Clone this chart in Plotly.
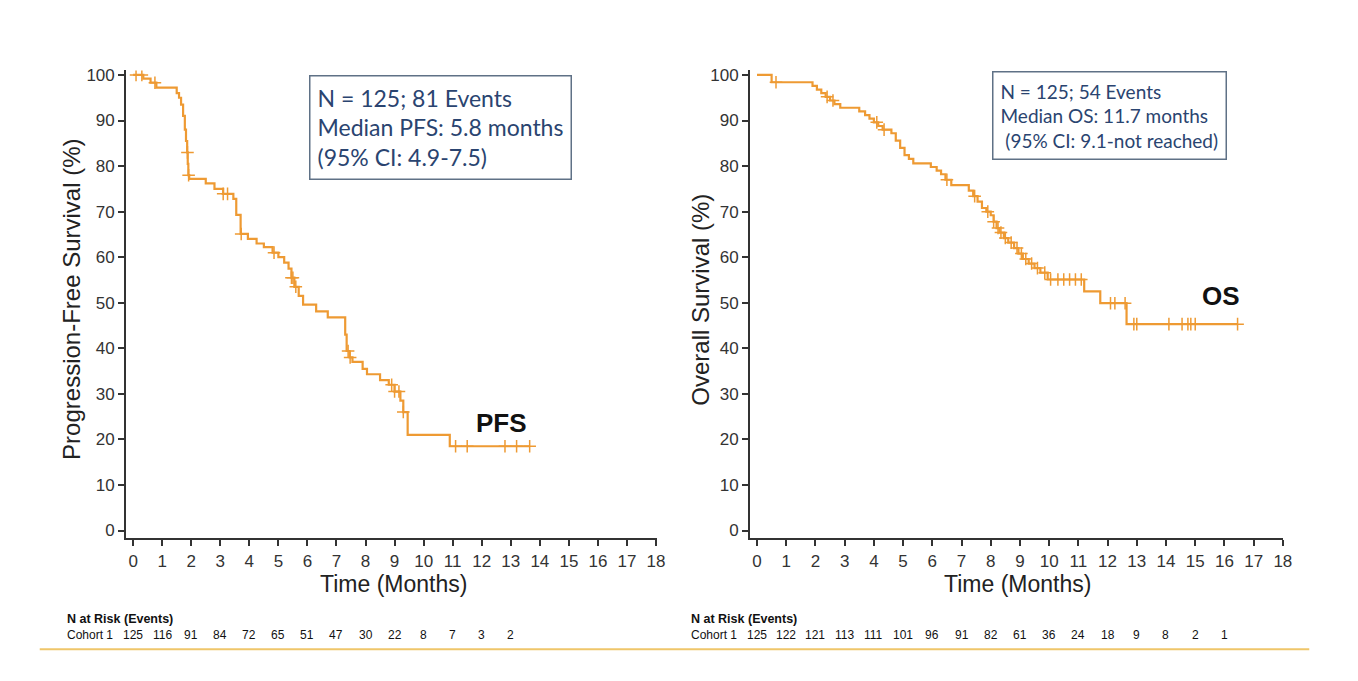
import plotly.graph_objects as go

# ---------------- data ----------------
months = list(range(0, 19))

pfs_time = [0, 0.35, 0.6, 0.8, 1.5, 1.58, 1.65, 1.72, 1.78, 1.82, 1.86, 1.88, 1.9, 1.93,
            2.5, 2.8, 3.1, 3.45, 3.55, 3.7, 3.95, 4.25, 4.5, 4.8, 5.0, 5.2, 5.35, 5.45,
            5.55, 5.7, 5.85, 6.3, 6.7, 7.3, 7.35, 7.45, 7.55, 7.9, 8.05, 8.5, 8.8, 9.0,
            9.2, 9.3, 9.45, 10.9]
pfs_surv = [100, 99.2, 98.3, 97.2, 96.0, 95.0, 93.5, 91.0, 88.0, 85.5, 83.0, 80.5, 78.0, 77.2,
            76.2, 75.0, 73.9, 72.8, 69.3, 65.1, 64.0, 63.0, 62.2, 61.0, 60.0, 58.8, 57.5, 55.5,
            53.5, 51.5, 49.6, 48.1, 46.8, 43.0, 39.4, 38.0, 37.0, 35.5, 34.3, 33.0, 32.0, 30.5,
            28.5, 26.0, 21.0, 18.5]
pfs_last = 13.65
pfs_cens = [0.1, 0.3, 0.75, 1.87, 1.91, 3.1, 3.25, 3.72, 4.85, 5.45, 5.5, 5.6, 7.4, 7.47,
            8.9, 9.0, 9.15, 9.3, 11.1, 11.5, 12.8, 13.2, 13.65]

os_time = [0, 0.5, 1.9, 2.05, 2.2, 2.35, 2.5, 2.65, 2.85, 3.5, 3.7, 3.85, 4.0, 4.15, 4.3,
           4.6, 4.75, 4.9, 5.05, 5.2, 5.35, 5.95, 6.15, 6.3, 6.45, 6.65, 7.25, 7.4, 7.55,
           7.7, 7.85, 8.0, 8.1, 8.2, 8.3, 8.45, 8.6, 8.8, 8.95, 9.1, 9.3, 9.5, 9.7, 9.95,
           11.2, 11.75, 12.65]
os_surv = [100, 98.4, 97.6, 96.8, 96.0, 95.2, 94.4, 93.6, 92.8, 92.0, 91.2, 90.4, 89.6, 88.8, 88.0,
           87.2, 85.6, 84.0, 82.4, 81.6, 80.6, 79.8, 79.0, 78.2, 77.0, 75.8, 74.6, 73.4, 72.2,
           70.8, 70.0, 69.2, 67.8, 66.4, 65.4, 64.2, 63.2, 62.0, 60.8, 59.6, 58.6, 57.6, 56.6, 55.1,
           52.5, 49.9, 45.3]
os_last = 16.45
os_cens = [0.65, 2.4, 2.6, 4.1, 4.35, 6.5, 7.45, 7.9, 8.1, 8.25, 8.35, 8.5, 8.7, 8.9, 9.05,
           9.2, 9.4, 9.6, 9.85, 10.05, 10.3, 10.5, 10.7, 10.9, 11.1, 12.1, 12.25, 12.6, 12.9,
           13.0, 14.1, 14.55, 14.75, 14.85, 15.0, 16.45]

pfs_risk = [125, 116, 91, 84, 72, 65, 51, 47, 30, 22, 8, 7, 3, 2]
os_risk = [125, 122, 121, 113, 111, 101, 96, 91, 82, 61, 36, 24, 18, 9, 8, 2, 1]

pfs_box = ["N = 125; 81 Events", "Median PFS: 5.8 months", "(95% CI: 4.9-7.5)"]
os_box = ["N = 125; 54 Events", "Median OS: 11.7 months", " (95% CI: 9.1-not reached)"]

assert len(pfs_time) == len(pfs_surv) and len(os_time) == len(os_surv)

# ---------------- helpers ----------------
ORANGE = "#EE9A33"
AXC = "#333333"
W, H = 1358, 681


def step_at(times, surv, t):
    s = surv[0]
    for ti, si in zip(times, surv):
        if ti <= t:
            s = si
    return s


def px_x(p):
    return p / W


def px_y(p):
    return 1 - p / H


fig = go.Figure()

for times, surv, last, cens, xa, ya in [
    (pfs_time, pfs_surv, pfs_last, pfs_cens, "x", "y"),
    (os_time, os_surv, os_last, os_cens, "x2", "y2"),
]:
    fig.add_trace(go.Scatter(
        x=times + [last], y=surv + [surv[-1]], mode="lines",
        line=dict(color=ORANGE, width=2.2, shape="hv"),
        xaxis=xa, yaxis=ya, showlegend=False, hoverinfo="skip"))
    fig.add_trace(go.Scatter(
        x=cens, y=[step_at(times, surv, c) for c in cens], mode="markers",
        marker=dict(symbol="cross-thin", size=9, line=dict(color=ORANGE, width=1.5)),
        xaxis=xa, yaxis=ya, showlegend=False, hoverinfo="skip"))

tickfont = dict(family="Liberation Sans, Arial", size=17, color=AXC)
common_x = dict(range=[-0.24, 18.02], tickmode="array", tickvals=months,
                ticktext=[str(m) for m in months], ticks="outside", ticklen=6,
                tickwidth=2, tickcolor=AXC, showline=True, linewidth=2, linecolor=AXC,
                showgrid=False, zeroline=False, tickfont=tickfont, fixedrange=True)
common_y = dict(range=[-1.7, 101], tickmode="linear", tick0=0, dtick=10, ticks="outside",
                ticklen=6, tickwidth=2, tickcolor=AXC, showline=True, linewidth=2,
                linecolor=AXC, showgrid=False, zeroline=False, tickfont=tickfont,
                fixedrange=True)

fig.update_layout(
    width=W, height=H, margin=dict(l=0, r=0, t=0, b=0),
    paper_bgcolor="white", plot_bgcolor="white",
    xaxis=dict(domain=[px_x(127), px_x(661)], anchor="y", **common_x),
    yaxis=dict(domain=[px_y(539), px_y(67)], anchor="x", **common_y),
    xaxis2=dict(domain=[px_x(755), px_x(1292)], anchor="y2", **common_x),
    yaxis2=dict(domain=[px_y(539), px_y(67)], anchor="x2", **common_y),
)

ann = []
ytitle_font = dict(family="Liberation Sans, Arial", size=24, color="#222222")
xtitle_font = dict(family="Liberation Sans, Arial", size=23, color="#222222")
# axis titles
ann.append(dict(text="Progression-Free Survival (%)", x=px_x(72), y=px_y(298), xref="paper",
                yref="paper", textangle=-90, showarrow=False, font=ytitle_font,
                xanchor="center", yanchor="middle"))
ann.append(dict(text="Overall Survival (%)", x=px_x(705), y=px_y(298), xref="paper",
                yref="paper", textangle=-90, showarrow=False, font=ytitle_font,
                xanchor="center", yanchor="middle"))
ann.append(dict(text="Time (Months)", x=px_x(396), y=px_y(585), xref="paper", yref="paper",
                showarrow=False, font=xtitle_font, xanchor="center", yanchor="middle"))
ann.append(dict(text="Time (Months)", x=px_x(1024), y=px_y(585), xref="paper", yref="paper",
                showarrow=False, font=xtitle_font, xanchor="center", yanchor="middle"))

# curve labels
lab_font = dict(family="Liberation Sans, Arial", size=26, color="#111111")
ann.append(dict(text="<b>PFS</b>", x=px_x(505), y=px_y(423), xref="paper", yref="paper",
                showarrow=False, font=lab_font, xanchor="center", yanchor="middle"))
ann.append(dict(text="<b>OS</b>", x=px_x(1229), y=px_y(295), xref="paper", yref="paper",
                showarrow=False, font=lab_font, xanchor="center", yanchor="middle"))

# stats boxes
BOXTXT = "#2A4470"
ann.append(dict(text="<br>".join(pfs_box), x=px_x(311), y=px_y(72), xref="paper", yref="paper",
                showarrow=False, align="left", xanchor="left", yanchor="top",
                font=dict(family="Lato, Carlito, Open Sans", size=23, color=BOXTXT),
                bordercolor="#5F7186", borderwidth=1.5, borderpad=7, bgcolor="white"))
ann.append(dict(text="<br>".join(os_box), x=px_x(999), y=px_y(68), xref="paper", yref="paper",
                showarrow=False, align="left", xanchor="left", yanchor="top",
                font=dict(family="Lato, Carlito, Open Sans", size=19, color=BOXTXT),
                bordercolor="#5F7186", borderwidth=1.5, borderpad=7, bgcolor="white"))

# risk tables
risk_font = dict(family="Liberation Sans, Arial", size=12, color="#111111")
for x0, risks, xr in [(65, pfs_risk, "x"), (694, os_risk, "x2")]:
    ann.append(dict(text="<b>N at Risk (Events)</b>", x=px_x(x0), y=px_y(620), xref="paper",
                    yref="paper", showarrow=False, xanchor="left", yanchor="middle",
                    font=dict(family="Liberation Sans, Arial", size=12.5, color="#111111")))
    ann.append(dict(text="Cohort 1", x=px_x(x0), y=px_y(637), xref="paper", yref="paper",
                    showarrow=False, xanchor="left", yanchor="middle", font=risk_font))
    for i, r in enumerate(risks):
        ann.append(dict(text=str(r), x=months[i], y=px_y(637), xref=xr, yref="paper",
                        showarrow=False, xanchor="center", yanchor="middle", font=risk_font))

fig.update_layout(annotations=ann)

# gold rule line at bottom
fig.add_shape(type="line", xref="paper", yref="paper", x0=px_x(40), x1=px_x(1318),
              y0=px_y(651), y1=px_y(651), line=dict(color="#EFC66A", width=2))

fig.write_html("out.html")
